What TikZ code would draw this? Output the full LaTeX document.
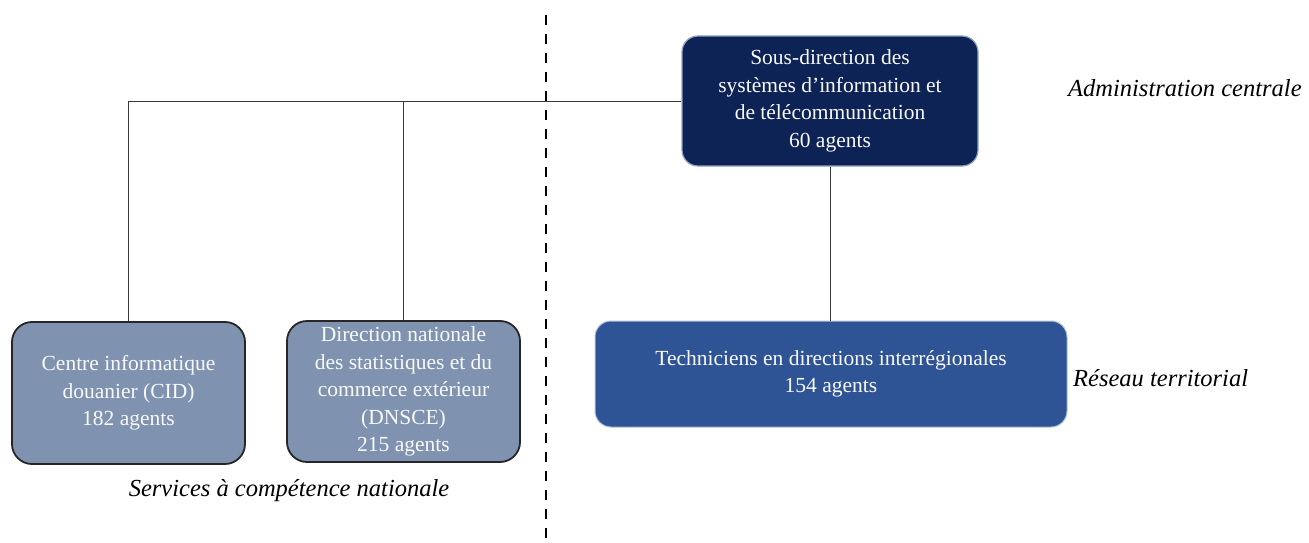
\documentclass[tikz,border=0pt]{standalone}
\usepackage{fontspec}
\setmainfont{Liberation Serif}
\definecolor{navy}{HTML}{0D2356}
\definecolor{navyedge}{HTML}{8FA3C4}
\definecolor{steel}{HTML}{7F93B0}
\definecolor{royal}{HTML}{2F5496}
\definecolor{linegray}{HTML}{3A3A3A}
\begin{document}
\begin{tikzpicture}[x=1pt,y=-1pt,
  box/.style={rounded corners=16pt, align=center, text=white!95!gray, inner sep=2pt,
    font=\fontsize{21.5}{27.5}\selectfont},
  topbox/.style={box, fill=navy, draw=navyedge, line width=1.2pt},
  svcbox/.style={box, fill=steel, draw=black!85, line width=1.8pt, rounded corners=20pt},
  netbox/.style={box, fill=royal, draw=navyedge!70, line width=1pt},
  conn/.style={draw=linegray, line width=1pt},
  side/.style={font=\fontsize{24.5}{28}\selectfont\itshape, inner sep=0pt}]
\useasboundingbox (0,0) rectangle (1309,543);
\draw[line width=2.6pt, dash pattern=on 10pt off 9pt] (546,15) -- (546,543);
\node[topbox, minimum width=296pt, minimum height=130pt] (top) at (830,101)
  {Sous-direction des\\systèmes d’information et\\de télécommunication\\60 agents};
\node[svcbox, minimum width=233pt, minimum height=142pt] (cid) at (128.5,393)
  {Centre informatique\\douanier (CID)\\182 agents};
\node[svcbox, minimum width=233pt, minimum height=141pt] (dnsce) at (403.5,391.5)
  {Direction nationale\\des statistiques et du\\commerce extérieur\\(DNSCE)\\215 agents};
\node[netbox, minimum width=472pt, minimum height=106pt] (tech) at (831,374)
  {Techniciens en directions interrégionales\\154 agents};
\path[conn] (top.west) -| (cid.north);
\path[conn] (dnsce.north) |- (top.west);
\path[conn] (top.south) -- (top.south |- tech.north);
\node[side, anchor=west] (admin) at (1068,88) {Administration centrale};
\node[side, anchor=west] (reseau) at (1073,378) {Réseau territorial};
\node[side] (scn) at (289,491) {Services à compétence nationale};
\end{tikzpicture}
\end{document}
